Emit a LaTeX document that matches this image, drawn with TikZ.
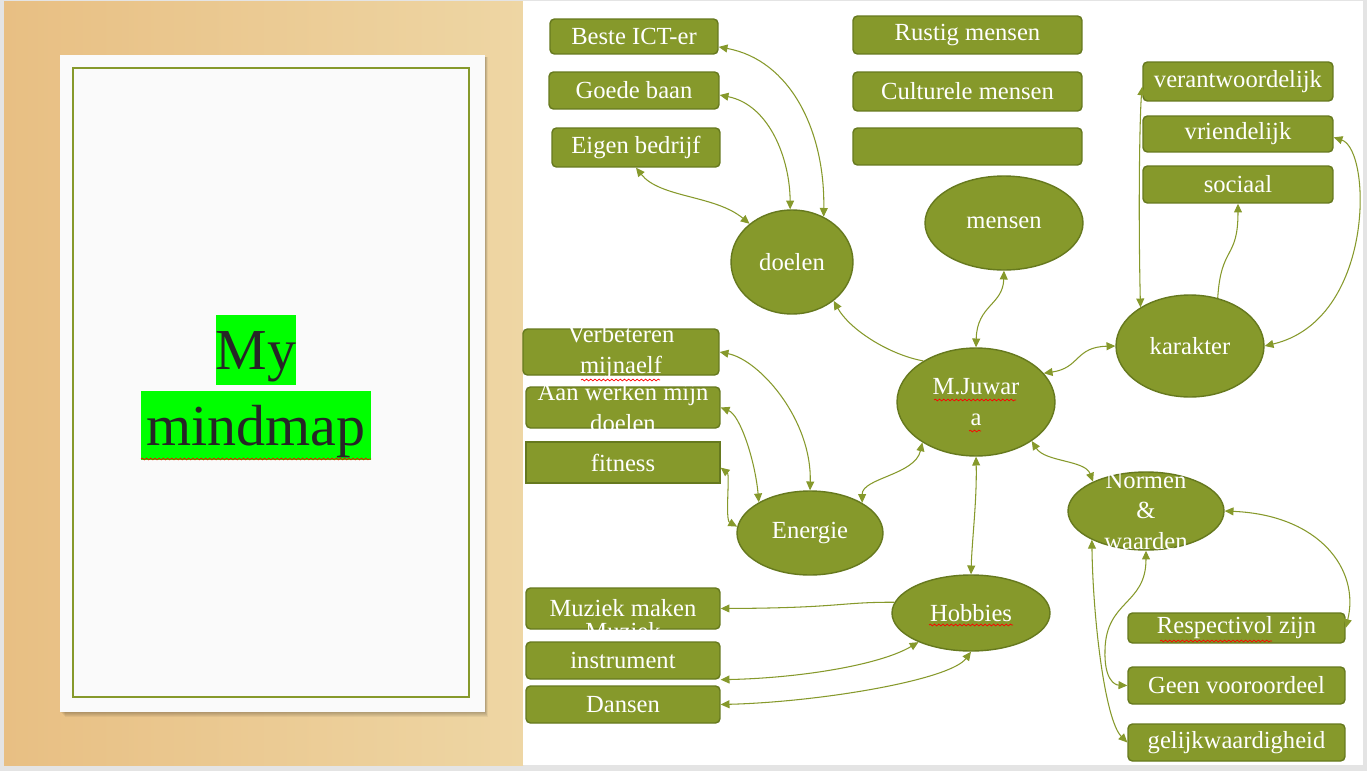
\documentclass[tikz,border=0pt]{standalone}
\usepackage{fontspec}
\setmainfont{Liberation Serif}
\usetikzlibrary{shapes.geometric,arrows.meta,decorations.pathmorphing}
\definecolor{mmolive}{HTML}{86992B}
\definecolor{mmdark}{HTML}{66791E}
\definecolor{woodl}{HTML}{E8BF83}
\definecolor{woodr}{HTML}{EED6A4}
\definecolor{hlgreen}{HTML}{00FF00}
\definecolor{mmframe}{HTML}{E4E4E4}

\begin{document}
\begin{tikzpicture}[x=0.02cm, y=-0.02cm,
    itembox/.style={draw=mmdark, fill=mmolive, line width=.8pt, rounded corners=2.5pt,
        text=white, font=\fontsize{14}{17.3}\selectfont, inner sep=0pt, align=center},
    topic/.style={ellipse, draw=mmdark, fill=mmolive, line width=.8pt,
        text=white, font=\fontsize{14}{17.3}\selectfont, inner sep=0pt, align=center},
    lbl/.style={text=white, font=\fontsize{14}{17.3}\selectfont, inner sep=0pt, align=center},
    conn/.style={mmolive, line width=.6pt, >={Triangle[length=5pt,width=4.5pt]}, <->},
    titlebox/.style={fill=hlgreen, text=black!85, font=\fontsize{33}{40}\selectfont,
        inner sep=0pt, text height=31pt, text depth=8.5pt},
    squiggle/.style={red, line width=.4pt, decorate,
        decoration={snake, amplitude=.5pt, segment length=2.4pt}}]
    \useasboundingbox (0,0) rectangle (1367,771);
    \fill[mmframe] (0,0) rectangle (1367,771);
    \shade[left color=woodl, right color=woodr] (4,1) rectangle (523,765);
    \fill[white] (523,1) rectangle (1363,765);
    \foreach \s in {1,...,5}
        \fill[black, opacity=.05] (60+\s,57) rectangle (485+\s/2,712+\s);
    \fill[white!98!black] (60,55) rectangle (485,712);
    \draw[mmolive, line width=1.2pt] (73,68) rectangle (469,697);
    \node[titlebox, minimum width=1.56cm] (my) at (256,350) {My};
    \node[titlebox, minimum width=4.6cm] (mindmap) at (256,425.5) {mindmap};

    \node[topic, minimum width=2.44cm, minimum height=2.08cm] (doelen) at (792,262) {doelen};
    \node[topic, minimum width=3.16cm, minimum height=1.88cm] (mensen) at (1004,223) {mensen};
    \node[topic, minimum width=2.96cm, minimum height=2.04cm] (karakter) at (1190,346) {karakter};
    \node[topic, minimum width=3.16cm, minimum height=2.16cm] (juwara) at (976,402) {M.Juwar\\a};
    \node[topic, minimum width=3.12cm, minimum height=1.56cm] (normen) at (1146,511) {};
    \node[topic, minimum width=3.16cm, minimum height=1.52cm] (hobbies) at (971,613) {Hobbies};
    \node[topic, minimum width=2.92cm, minimum height=1.68cm] (energie) at (810,533) {Energie};

    \node[itembox, minimum width=3.36cm, minimum height=.7cm] (beste) at (634,36.5) {Beste ICT-er};
    \node[itembox, minimum width=3.4cm, minimum height=.74cm] (goede) at (634,90.5) {Goede baan};
    \node[itembox, minimum width=3.36cm, minimum height=.78cm] (eigen) at (636,147.5) {Eigen bedrijf};
    \node[itembox, minimum width=4.58cm, minimum height=.76cm] (rustig) at (967.5,35) {Rustig mensen};
    \node[itembox, minimum width=4.58cm, minimum height=.78cm] (cultureel) at (967.5,91.5) {Culturele mensen};
    \node[itembox, minimum width=4.58cm, minimum height=.74cm] (leeg) at (967.5,146.5) {};
    \node[itembox, minimum width=3.8cm, minimum height=.78cm] (verant) at (1238,81.5) {verantwoordelijk};
    \node[itembox, minimum width=3.8cm, minimum height=.72cm] (vriend) at (1238,134) {vriendelijk};
    \node[itembox, minimum width=3.8cm, minimum height=.74cm] (sociaal) at (1238,184.5) {sociaal};
    \node[itembox, minimum width=3.92cm, minimum height=.92cm] (verbeteren) at (621,352) {};
    \node[itembox, minimum width=3.88cm, minimum height=.82cm] (aanwerken) at (623,407.5) {};
    \node[itembox, sharp corners, minimum width=3.88cm, minimum height=.82cm] (fitness) at (623,462.5) {fitness};
    \node[itembox, minimum width=3.88cm, minimum height=.82cm] (muziek) at (623,608.5) {Muziek maken};
    \node[itembox, minimum width=3.88cm, minimum height=.74cm] (instrument) at (623,660.5) {instrument};
    \node[itembox, minimum width=3.88cm, minimum height=.74cm] (dansen) at (623,704.5) {Dansen};
    \node[itembox, minimum width=4.34cm, minimum height=.6cm] (respect) at (1236.5,628) {Respectivol zijn};
    \node[itembox, minimum width=4.34cm, minimum height=.74cm] (geen) at (1236.5,685.5) {Geen vooroordeel};
    \node[itembox, minimum width=4.34cm, minimum height=.74cm] (gelijk) at (1236.5,742.5) {gelijkwaardigheid};

    \begin{scope}
        \clip (verbeteren.south west) rectangle (verbeteren.north east);
        \node[lbl] (verbeterentxt) at (verbeteren) {Verbeteren\\mijnaelf};
    \end{scope}
    \begin{scope}
        \clip (aanwerken.south west) rectangle (aanwerken.north east);
        \node[lbl] (aanwerkentxt) at (aanwerken) {Aan werken mijn\\doelen};
    \end{scope}
    \begin{scope}
        \clip (muziek.south west) rectangle (muziek.north east);
        \node[lbl, anchor=base] (muziektxt) at (623,639) {Muziek};
    \end{scope}
    \begin{scope}
        \clip (normen.west |- normen.north) rectangle (normen.east |- normen.south);
        \node[lbl] (normentxt) at (normen) {Normen\\\&\\waarden};
    \end{scope}

    \foreach \xa/\xb/\yy in {581/660/380, 934/1016/400, 969/981/431, 929/1013/625, 1160/1272/641, 141/371/459}
        \draw[squiggle] (\xa,\yy) -- (\xb,\yy);

    \draw[conn] (beste.-7) .. controls (790,60) and (825,130) .. (doelen.55);
    \draw[conn] (goede.-3) .. controls (770,105) and (790,160) .. (doelen.92);
    \draw[conn] (eigen.south) .. controls (660,198) and (715,195) .. (doelen.138);
    \draw[conn, ->] (juwara.142) .. controls (890,355) and (850,330) .. (doelen.-43);
    \draw[conn] (mensen.south) .. controls (1003,305) and (977,305) .. (juwara.north);
    \draw[conn] (juwara.23) .. controls (1080,368) and (1075,347) .. (karakter.west);
    \draw[conn] (karakter.142) .. controls (1138,200) and (1140,110) .. (verant.-177);
    \draw[conn, ->] (karakter.60) .. controls (1221,245) and (1238,260) .. (sociaal.south);
    \draw[conn] (karakter.east) .. controls (1375,320) and (1372,150) .. (vriend.-2);
    \draw[conn] (juwara.-35) .. controls (1045,462) and (1085,460) .. (normen.151);
    \draw[conn] (juwara.south) .. controls (977,500) and (972,540) .. (hobbies.north);
    \draw[conn] (energie.30) .. controls (862,478) and (915,475) .. (juwara.-143);
    \draw[conn] (verbeteren.east) .. controls (760,360) and (812,420) .. (energie.north);
    \draw[conn] (aanwerken.east) .. controls (740,415) and (755,460) .. (energie.149);
    \draw[conn] (fitness.-3) .. controls (730,475) and (725,520) .. (energie.175);
    \draw[conn, ->] (hobbies.172) .. controls (840,602) and (840,608) .. (muziek.east);
    \draw[conn] (instrument.south east) .. controls (800,678) and (880,665) .. (hobbies.-151);
    \draw[conn] (dansen.east) .. controls (820,702) and (950,680) .. (hobbies.south);
    \draw[conn] (normen.east) .. controls (1320,515) and (1360,570) .. (respect.east);
    \draw[conn] (normen.south) .. controls (1146,605) and (1106,600) .. (1105,650)
        .. controls (1104,680) and (1115,685) .. (geen.west);
    \draw[conn] (normen.-152) .. controls (1093,620) and (1105,720) .. (gelijk.west);
\end{tikzpicture}
\end{document}
